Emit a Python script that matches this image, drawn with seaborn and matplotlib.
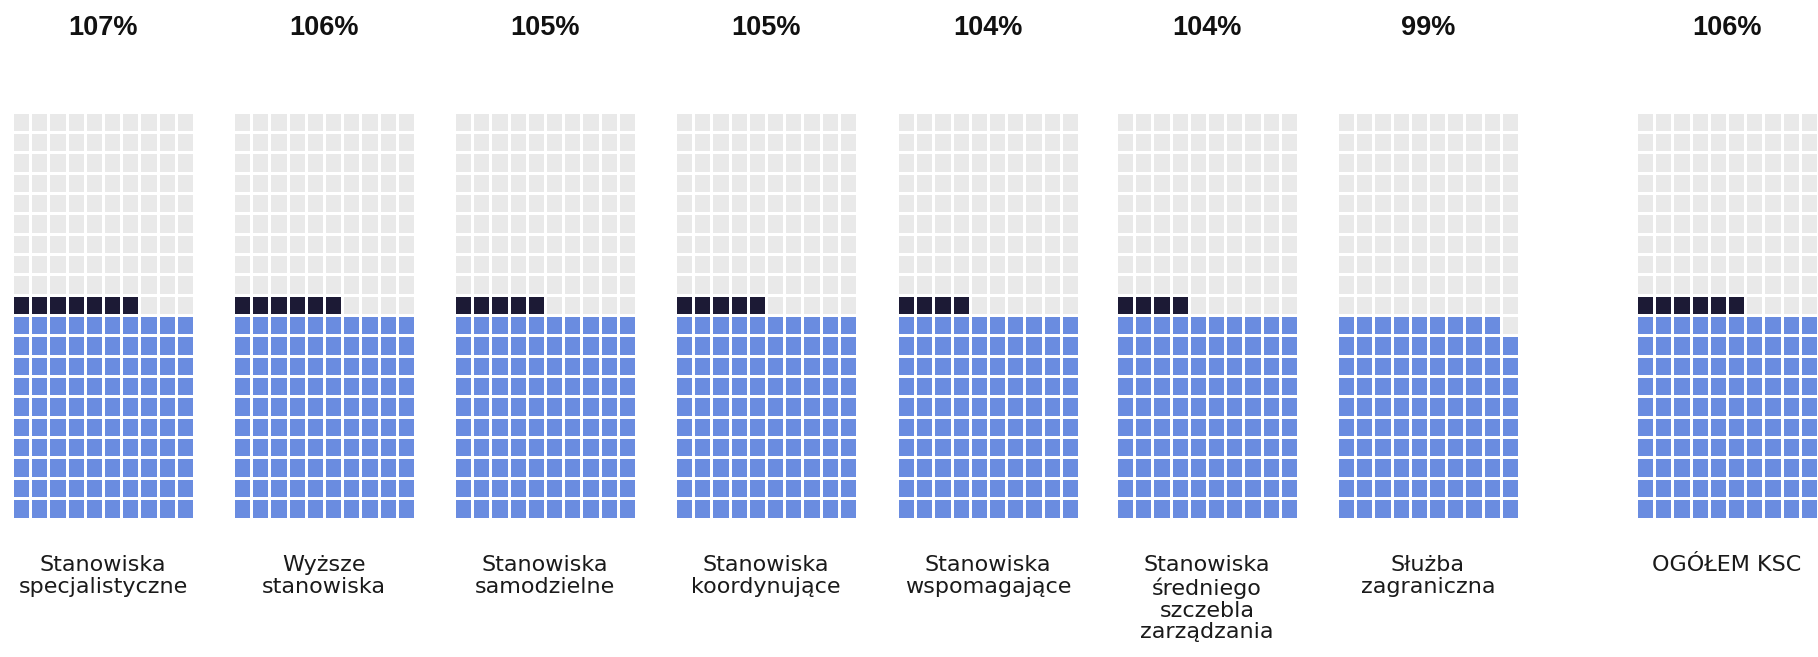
import numpy as np
import matplotlib.pyplot as plt
import seaborn as sns
from matplotlib.colors import ListedColormap

# percentages per group
groups = ['Stanowiska\nspecjalistyczne', 'Wyższe\nstanowiska', 'Stanowiska\nsamodzielne',
          'Stanowiska\nkoordynujące', 'Stanowiska\nwspomagające',
          'Stanowiska\nśredniego\nszczebla\nzarządzania', 'Służba\nzagraniczna', 'OGÓŁEM KSC']
values = [107, 106, 105, 105, 104, 104, 99, 106]
titles = ['107%', '106%', '105%', '105%', '104%', '104%', '99%', '106%']

n_cols, n_rows = 10, 20
colors = ['#e9e9e9', '#6a8ce0', '#1c1a35']  # empty, up to 100%, above 100%

W, H = 1818, 657
fig = plt.figure(figsize=(W / 100, H / 100), dpi=100)
sns.set_style('white')

lefts = [12, 233, 454, 675, 897, 1116, 1337, 1636]  # px, left edge of each waffle
top_px, bot_px = 111.5, 518.5
width_px = 182


def waffle_grid(v):
    k = np.arange(n_rows * n_cols).reshape(n_rows, n_cols)  # filled bottom-up, left-right
    grid = np.zeros_like(k)
    grid[k < min(v, 100)] = 1
    grid[(k >= 100) & (k < v)] = 2
    return grid[::-1]  # heatmap draws first row on top


for i in range(len(values)):
    x0 = lefts[i]
    ax = fig.add_axes([x0 / W, (H - bot_px) / H, width_px / W, (bot_px - top_px) / H])
    sns.heatmap(waffle_grid(values[i]), ax=ax, cmap=ListedColormap(colors), vmin=-0.5, vmax=2.5,
                cbar=False, linewidths=2.0, linecolor='white', square=False,
                xticklabels=False, yticklabels=False)
    ax.set_axis_off()

    cx = (x0 + width_px / 2) / W
    fig.text(cx, 1 - 28 / H, titles[i], ha='center', va='center', fontsize=19.5,
             fontweight='bold', family='Liberation Sans', color='#111111')
    fig.text(cx, 1 - 555 / H, groups[i], ha='center', va='top', fontsize=16,
             family='DejaVu Sans', color='#1a1a1a', linespacing=1.12)

fig.savefig('out.png', dpi=100, facecolor='white')
